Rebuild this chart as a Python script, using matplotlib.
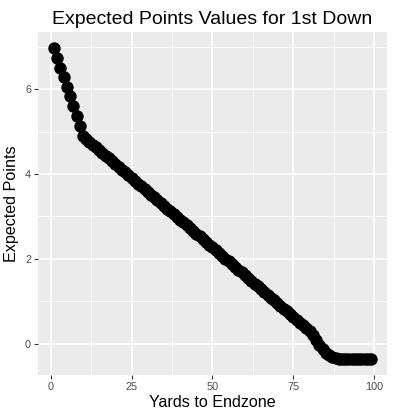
import matplotlib
matplotlib.use("Agg")
import matplotlib.pyplot as plt
from matplotlib.ticker import FixedLocator

yards = list(range(1, 100))
expected_points = [
    6.98, 6.74, 6.51, 6.29, 6.05, 5.84, 5.60, 5.36, 5.13,
    4.89, 4.82, 4.76, 4.69, 4.63, 4.56, 4.50, 4.43, 4.37, 4.30,
    4.23, 4.17, 4.10, 4.04, 3.97, 3.91, 3.84, 3.77, 3.71, 3.64,
    3.58, 3.51, 3.45, 3.38, 3.32, 3.25, 3.18, 3.12, 3.05, 2.99,
    2.92, 2.86, 2.79, 2.73, 2.66, 2.59, 2.53, 2.46, 2.40, 2.33,
    2.27, 2.20, 2.13, 2.07, 2.00, 1.94, 1.87, 1.81, 1.74, 1.68,
    1.61, 1.54, 1.48, 1.41, 1.35, 1.28, 1.22, 1.15, 1.08, 1.02,
    0.95, 0.89, 0.82, 0.76, 0.69, 0.63, 0.56, 0.50, 0.43, 0.36,
    0.30, 0.20, 0.08, -0.03, -0.13, -0.21, -0.27, -0.31, -0.34, -0.36,
    -0.37, -0.37, -0.37, -0.37, -0.37, -0.37, -0.37, -0.37, -0.37, -0.37,
]
x_ticks = [0, 25, 50, 75, 100]
y_ticks = [0, 2, 4, 6]

plt.rcParams['font.family'] = ['Liberation Sans', 'DejaVu Sans']

fig = plt.figure(figsize=(3.94, 4.19), dpi=100)
ax = fig.add_axes([38/394, 1-375/419, (387-38)/394, (375-32)/419])
ax.set_facecolor('#EBEBEB')
for s in ax.spines.values():
    s.set_visible(False)

ax.scatter(yards, expected_points, s=80, color='black', zorder=3, linewidths=0)

xr = max(yards) - min(yards)
ax.set_xlim(min(yards) - 0.05*xr, max(yards) + 0.05*xr)
yr = max(expected_points) - min(expected_points)
ax.set_ylim(min(expected_points) - 0.05*yr, max(expected_points) + 0.05*yr)

ax.set_xticks(x_ticks)
ax.set_yticks(y_ticks)
ax.xaxis.set_minor_locator(FixedLocator([12.5, 37.5, 62.5, 87.5]))
ax.yaxis.set_minor_locator(FixedLocator([1, 3, 5, 7]))
ax.grid(which='major', color='white', linewidth=1.1, zorder=0)
ax.grid(which='minor', color='white', linewidth=0.55, zorder=0)
ax.set_axisbelow(True)
ax.tick_params(which='major', length=3, width=0.8, color='#333333',
               labelsize=7.8, labelcolor='#4D4D4D', pad=2)
ax.tick_params(which='minor', length=0)

ax.set_xlabel('Yards to Endzone', fontsize=11.6, color='black', labelpad=2)
ax.set_ylabel('Expected Points', fontsize=11.6, color='black', labelpad=4)
ax.set_title('Expected Points Values for 1st Down', fontsize=14, color='black', pad=6)

fig.savefig('out.png', dpi=100, facecolor='white')
